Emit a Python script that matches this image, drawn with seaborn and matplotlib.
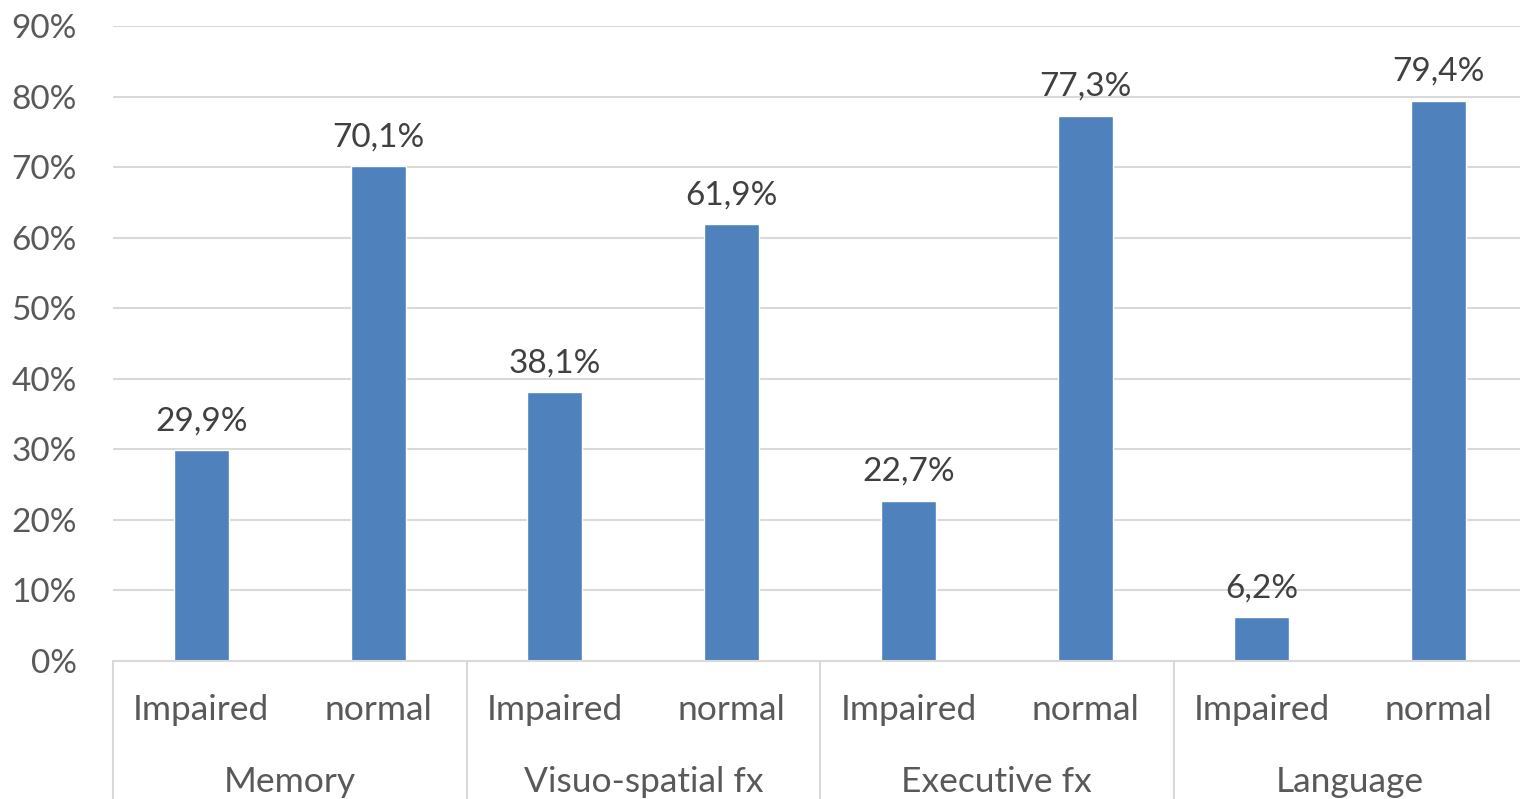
import matplotlib
matplotlib.use("Agg")
import matplotlib.pyplot as plt
import matplotlib.transforms as mtransforms
import seaborn as sns
import pandas as pd

domains = ["Memory", "Visuo-spatial fx", "Executive fx", "Language"]
statuses = ["Impaired", "normal"]
impaired = [29.9, 38.1, 22.7, 6.2]
normal = [70.1, 61.9, 77.3, 79.4]
y_ticks = [0, 10, 20, 30, 40, 50, 60, 70, 80, 90]

rows = []
for d, a, b in zip(domains, impaired, normal):
    rows.append({"domain": d, "status": "Impaired", "value": a})
    rows.append({"domain": d, "status": "normal", "value": b})
df = pd.DataFrame(rows)
df["key"] = df["domain"] + " | " + df["status"]

sns.set_theme(style="white")
plt.rcParams["font.family"] = ["Lato", "DejaVu Sans"]

BAR = "#4F81BD"
GRID = "#D9D9D9"
TICK = "#595959"
LABEL = "#404040"

fig = plt.figure(figsize=(15.2, 7.99), dpi=100)
ax = fig.add_axes([113 / 1520, 138 / 799, 1414 / 1520, 635 / 799])

sns.barplot(data=df, x="key", y="value", color=BAR, width=0.31,
            saturation=1, ax=ax, errorbar=None, order=list(df["key"]))

ax.set_ylim(0, 90)
ax.set_xlim(-0.5, len(df) - 0.5)
ax.set_yticks(y_ticks)
ax.set_yticklabels([f"{t}%" for t in y_ticks], fontsize=24, color=TICK)
ax.tick_params(axis="y", length=0, pad=26)
ax.tick_params(axis="x", length=0, pad=24)
ax.set_xticks(range(len(df)))
ax.set_xticklabels(df["status"], fontsize=25.5, color=TICK)
ax.set_xlabel("")
ax.set_ylabel("")
ax.yaxis.grid(True, color=GRID, linewidth=1.5)
ax.set_axisbelow(True)
for side in ["top", "right", "left"]:
    ax.spines[side].set_visible(False)
ax.spines["bottom"].set_color(GRID)
ax.spines["bottom"].set_linewidth(1.5)

# value labels above bars
for patch, v in zip(ax.patches, df["value"]):
    ax.annotate(f"{v:.1f}%".replace(".", ","),
                (patch.get_x() + patch.get_width() / 2, v),
                xytext=(0, 10), textcoords="offset points",
                ha="center", va="bottom", fontsize=24, color=LABEL)

# group separators and domain labels below the axis
trans = mtransforms.blended_transform_factory(ax.transData, ax.transAxes)
for i in range(len(domains) + 1):
    x = -0.5 + 2 * i
    ax.plot([x, x], [0, -0.25], transform=trans, color=GRID,
            linewidth=1.5, clip_on=False)
for i, d in enumerate(domains):
    ax.text(0.5 + 2 * i, -0.19, d, transform=trans, ha="center",
            va="center", fontsize=25.5, color=TICK)

fig.savefig("out.png", dpi=100)
